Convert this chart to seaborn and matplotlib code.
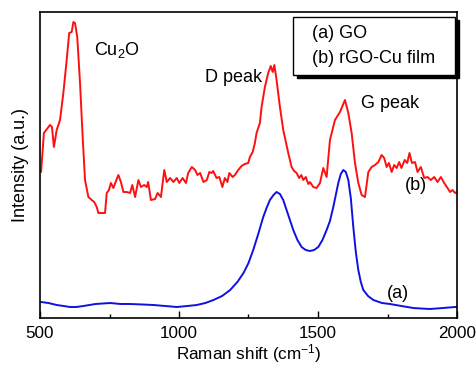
import matplotlib
matplotlib.use("Agg")
import matplotlib.pyplot as plt
import seaborn as sns
import pandas as pd

# (b) rGO-Cu film spectrum (red)
x_b = [504, 514, 536, 543, 550, 560, 572, 584, 596, 605, 614, 620, 626, 634, 644, 654,
       662, 674, 686, 695, 704, 710, 734, 740, 748, 755, 764, 772, 782, 791, 800, 812, 824, 832, 842,
       854, 863, 875, 884, 889, 899, 914, 923, 935, 947, 956, 968, 980, 992, 1001, 1013, 1025, 1033,
       1046, 1058, 1066, 1076, 1088, 1100, 1109, 1117, 1123, 1135, 1145, 1156, 1165, 1174, 1181, 1193,
       1201, 1213, 1225, 1237, 1249, 1255, 1265, 1273, 1279, 1291,
       1297, 1309, 1321, 1330, 1337, 1343, 1351, 1363, 1375, 1393, 1405, 1414, 1423, 1432, 1440, 1447,
       1456, 1465, 1471, 1483, 1495, 1507, 1519, 1531, 1543, 1561, 1579, 1597, 1609, 1621, 1633, 1645,
       1657, 1669, 1681, 1693, 1705, 1717, 1729, 1738, 1747, 1755, 1765, 1774, 1783, 1792, 1800, 1812,
       1821, 1829, 1838, 1849, 1858, 1870, 1882, 1894, 1906, 1918, 1930, 1942, 1954, 1966, 1975, 1984,
       1993, 2000]
y_b = [146, 185, 193, 191, 171, 188, 198, 225, 258, 285, 286, 296, 295, 281, 235, 178,
       138, 121, 118, 116, 111, 105, 105, 125, 128, 135, 130, 136, 143, 136, 126, 126, 125, 133, 121,
       138, 131, 133, 131, 136, 118, 119, 125, 121, 148, 136, 140, 136, 140, 135, 140, 135, 145,
       151, 148, 143, 145, 136, 138, 146, 145, 147, 140, 141, 131, 140, 136, 145, 141,
       143, 148, 152, 154, 155, 161, 166, 175, 185, 195,
       211, 231, 245, 252, 246, 253, 238, 211, 188, 165, 151, 147, 145, 140, 143, 138,
       141, 134, 136, 131, 130, 135, 150, 141, 178, 198, 206, 218, 205, 185, 155, 135,
       123, 121, 146, 151, 153, 156, 163, 160, 151, 155, 146, 153, 150, 156, 150, 158,
       155, 165, 155, 156, 146, 151, 140, 141, 138, 141, 136, 141, 135, 130, 126, 128,
       125, 126]

# (a) GO spectrum (blue)
x_a = [504, 530, 560, 585, 608, 630, 656, 700, 752, 790, 824, 870, 908, 950, 992, 1030, 1064, 1095, 1124,
       1155, 1184, 1210, 1232, 1250, 1267, 1285, 1303, 1315, 1327, 1340, 1351, 1363, 1375, 1393, 1411,
       1426, 1441, 1456, 1471, 1486, 1501, 1516, 1531, 1543, 1555, 1564, 1573, 1582, 1591, 1600, 1609,
       1618, 1627, 1636, 1645, 1654, 1663, 1680, 1699, 1730, 1759, 1800, 1843, 1870, 1903, 1950, 1993, 2000]
y_a = [16, 15, 13, 12, 11, 11, 12, 14, 15, 14, 14, 13.5, 13, 12, 11, 12, 13, 15, 18,
       22, 28, 36, 45, 55, 68, 84, 101, 110, 118, 123, 126, 124, 118, 103, 88,
       78, 71, 68, 67, 68, 71, 78, 88, 97, 111, 123, 135, 144, 148, 146, 138,
       120, 91, 66, 48, 36, 28, 22, 18, 15, 14, 12, 10, 9.5, 9, 10, 11, 11]

labels = ["(a) GO", "(b) rGO-Cu film"]

df = pd.concat([
    pd.DataFrame({"x": x_a, "y": y_a, "sample": labels[0]}),
    pd.DataFrame({"x": x_b, "y": y_b, "sample": labels[1]}),
])

sns.set_style("ticks")
plt.rcParams["font.family"] = ["Liberation Sans", "DejaVu Sans"]
plt.rcParams["mathtext.default"] = "regular"
plt.rcParams["text.color"] = "black"
plt.rcParams["axes.labelcolor"] = "black"
plt.rcParams["xtick.color"] = "black"
plt.rcParams["legend.labelcolor"] = "black"

FS = 13
FSX = 12.3
W, H = 477, 366
fig = plt.figure(figsize=(W / 100, H / 100), dpi=100)
ax = fig.add_axes([40 / W, 48 / H, 417 / W, 306 / H])

sns.lineplot(data=df, x="x", y="y", hue="sample", sort=False, estimator=None,
             palette={labels[0]: "#1010e0", labels[1]: "#ff1010"}, linewidth=1.4, ax=ax)

ax.set_xlim(500, 2000)
ax.set_ylim(0, 306)
ax.set_xticks([500, 1000, 1500, 2000])
ax.set_xticks([750, 1250, 1750], minor=True)
ax.set_yticks([])
ax.tick_params(axis="x", which="major", direction="in", length=5, width=1, labelsize=FSX, pad=6,
               colors="black")
ax.tick_params(axis="x", which="minor", direction="in", length=3, width=1, colors="black")
for s in ax.spines.values():
    s.set_color("black")
    s.set_linewidth(1.2)

ax.set_xlabel("Raman shift (cm$^{-1}$)", fontsize=FSX, va="bottom", color="black")
ax.xaxis.set_label_coords(0.5, (1.0 - 48) / 306)
ax.set_ylabel("Intensity (a.u.)", fontsize=FS, labelpad=8, color="black")

ax.text(694, 268, "Cu$_2$O", fontsize=FS, va="center", ha="left", color="black")
ax.text(1093, 241, "D peak", fontsize=FS, va="center", ha="left", color="black")
ax.text(1655, 214, "G peak", fontsize=FS, va="center", ha="left", color="black")
ax.text(1813, 133, "(b)", fontsize=FS, va="center", ha="left", color="black")
ax.text(1748, 25, "(a)", fontsize=FS, va="center", ha="left", color="black")

leg_kw = dict(loc="upper left",
              bbox_to_anchor=(293 / W, 1 - 74 / H, 162 / W, 57 / H),
              bbox_transform=fig.transFigure, mode="expand",
              borderaxespad=0, handlelength=0.6, handletextpad=0, fontsize=FS, frameon=True,
              fancybox=False, edgecolor="black", framealpha=1,
              labelspacing=0.42, borderpad=0.45)
try:
    leg = ax.legend(shadow={"color": "black", "alpha": 1, "ox": 2.6, "oy": -2.2}, **leg_kw)
    fig.canvas.draw()
except Exception:
    leg = ax.legend(shadow={"color": "black", "alpha": 1}, **leg_kw)
leg.get_frame().set_linewidth(1.0)
for t in leg.get_texts():
    t.set_color("black")
for h in leg.legend_handles:
    h.set_visible(False)

fig.savefig("out.png", dpi=100)
